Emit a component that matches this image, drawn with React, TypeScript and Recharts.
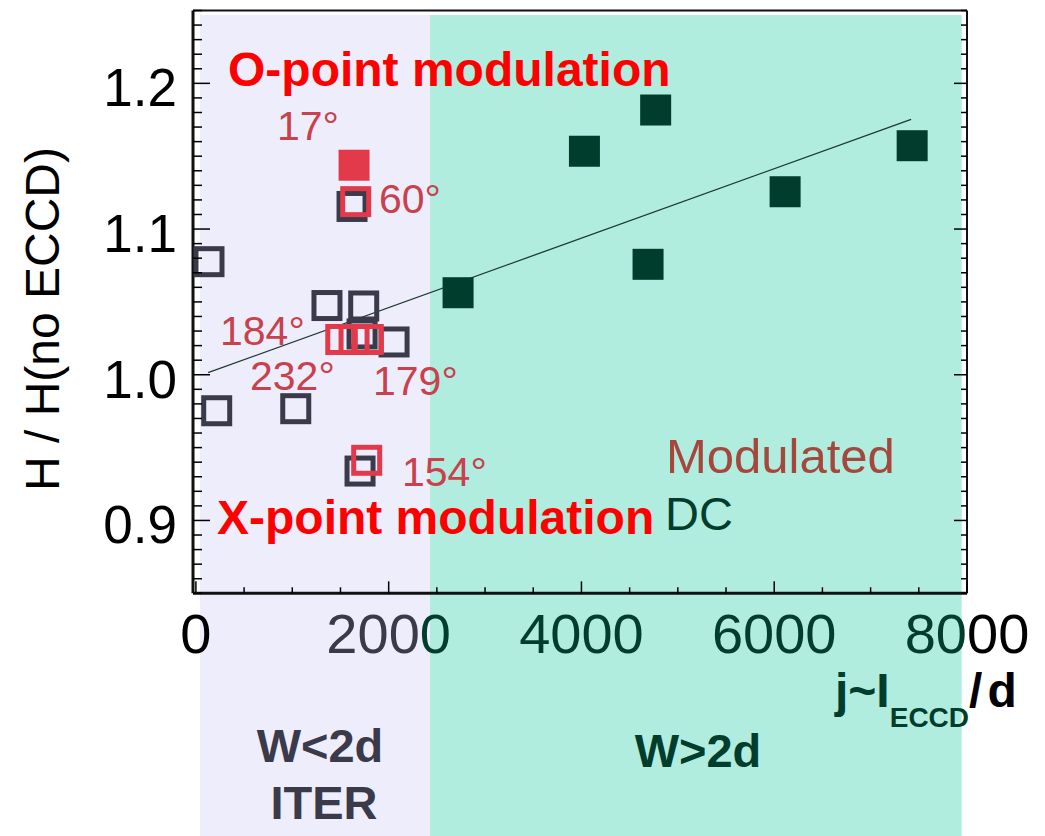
import { ScatterChart, Scatter, XAxis, YAxis, ReferenceArea, Customized } from "recharts";

// DC shots, W>2d (filled dark green)
const dcX = [2720, 4031, 4770, 4691, 6113, 7431];
const dcY = [1.0563, 1.1534, 1.1817, 1.0758, 1.1256, 1.1572];

// DC shots, W<2d (open gray)
const grayX = [136, 1360, 1741, 1724, 2056, 216, 1036, 1703, 1620];
const grayY = [1.0776, 1.0475, 1.0472, 1.028, 1.0225, 0.9753, 0.9767, 0.9339, 1.1155];

// modulated, 17 deg (filled red)
const oPointX = [1641];
const oPointY = [1.1438];

// modulated: 60, 184, 232, 179, 154 deg (open red)
const modX = [1658, 1503, 1641, 1789, 1772];
const modY = [1.1188, 1.0242, 1.0242, 1.0242, 0.9413];

// linear fit
const fitX = [126, 7420];
const fitY = [1.0014, 1.1753];

// shaded regions (W<2d / W>2d)
const iterBand = [43, 2429];
const wideBand = [2429, 7945];

const yMajor = [0.9, 1.0, 1.1, 1.2];
const xMajor = [0, 2000, 4000, 6000, 8000];
const yTicks = Array.from({ length: 41 }, (_, i) => +(0.85 + i * 0.01).toFixed(2));
const xTicks = Array.from({ length: 17 }, (_, i) => i * 500);

const FONT = "'Liberation Sans', Arial, Helvetica, sans-serif";
const GREEN = "#003d2c";
const GRAY = "#3a3a4a";
const RED = "#e23a4a";
const RED_TXT = "#c8414d";

const xTickParts: Record<number, [string, string][]> = {
  0: [["0", "#000"]],
  2000: [["200", GRAY], ["0", GREEN]],
  4000: [["4000", GREEN]],
  6000: [["6000", GREEN]],
  8000: [["80", GREEN], ["00", "#000"]],
};

const pts = (xs: number[], ys: number[]) => xs.map((x, i) => ({ x, y: ys[i] }));
const isMajor = (list: number[], v: number) => list.some((m) => Math.abs(m - v) < 1e-6);

const filledSquare = (color: string) => (p: any) => (
  <rect x={p.cx - 15.5} y={p.cy - 15.5} width={31} height={31} fill={color} />
);
const openSquare = (color: string) => (p: any) => (
  <rect x={p.cx - 13} y={p.cy - 13} width={26} height={26} fill="none" stroke={color} strokeWidth={5} />
);

function LeftTick({ x, y, payload }: any) {
  const major = isMajor(yMajor, payload.value);
  return (
    <g>
      <line x1={x} x2={x + (major ? 17 : 9)} y1={y} y2={y} stroke="#000" strokeWidth={1.5} />
      {major && (
        <text x={x - 16} y={y + 23} textAnchor="end" fontSize={53} fill="#000" fontFamily={FONT}>
          {payload.value.toFixed(1)}
        </text>
      )}
    </g>
  );
}

function RightTick({ x, y, payload }: any) {
  const major = isMajor(yMajor, payload.value);
  return <line x1={x} x2={x - (major ? 13 : 6)} y1={y} y2={y} stroke="#000" strokeWidth={1.5} />;
}

function BottomTick({ x, y, payload }: any) {
  const major = isMajor(xMajor, payload.value);
  const parts = xTickParts[payload.value];
  return (
    <g>
      <line x1={x} x2={x} y1={y} y2={y - (major ? 12 : 6)} stroke="#000" strokeWidth={1.5} />
      {major && parts && (
        <text x={x} y={y + 60} textAnchor="middle" fontSize={56} fontFamily={FONT}>
          {parts.map(([t, c], i) => (
            <tspan key={i} fill={c}>{t}</tspan>
          ))}
        </text>
      )}
    </g>
  );
}

function TopTick({ x, y, payload }: any) {
  const major = isMajor(xMajor, payload.value);
  return <line x1={x} x2={x} y1={y} y2={y + (major ? 13 : 5)} stroke="#000" strokeWidth={1.5} />;
}

function Overlay() {
  const deg = { fontSize: 41, fill: RED_TXT, fontFamily: FONT };
  const bold = { fontSize: 47, fontWeight: 700, fontFamily: FONT };
  return (
    <g>
      <text transform="translate(51, 311) rotate(-90)" textAnchor="middle" fontSize={48} fontFamily={FONT} fill="#000">
        H / H(no ECCD)
      </text>
      <text x={220} y={78} fontSize={48} fontWeight={700} fill="#ff0000" fontFamily={FONT}>O-point modulation</text>
      <text x={209} y={526} fontSize={48} fontWeight={700} fill="#ff0000" fontFamily={FONT}>X-point modulation</text>
      <text x={269} y={132} {...deg}>17°</text>
      <text x={371} y={205} {...deg}>60°</text>
      <text x={212} y={337} {...deg}>184°</text>
      <text x={242} y={382} {...deg}>232°</text>
      <text x={365} y={387} {...deg}>179°</text>
      <text x={394} y={478} {...deg}>154°</text>
      <text x={658} y={465} fontSize={49} fill="#a5473d" fontFamily={FONT}>Modulated</text>
      <text x={657} y={522} fontSize={47} fill={GREEN} fontFamily={FONT}>DC</text>
      <text x={312} y={754} textAnchor="middle" fill={GRAY} {...bold}>W&lt;2d</text>
      <text x={316} y={811} textAnchor="middle" fill={GRAY} {...bold}>ITER</text>
      <text x={690} y={759} textAnchor="middle" fill={GREEN} {...bold}>W&gt;2d</text>
      <text x={827} y={699} fontSize={48} fontWeight={700} fontFamily={FONT}>
        <tspan fill={GREEN}>j~I</tspan>
        <tspan fill={GREEN} fontSize={28} dy={20}>ECCD</tspan>
        <tspan fill="#000" dy={-20} letterSpacing={5}>/d</tspan>
      </text>
    </g>
  );
}

export default function App() {
  const axisCommon = { type: "number" as const, allowDataOverflow: true, interval: 0 as const, tickLine: false, tickSize: 0, tickMargin: 0 };
  return (
    <div style={{ width: 1037, height: 828 }}>
      <ScatterChart width={1037} height={828} margin={{ top: 1.5, right: 77, bottom: 241.7, left: 0 }}>
        <ReferenceArea xAxisId="b" yAxisId="l" x1={iterBand[0]} x2={iterBand[1]} y1={0.68} y2={1.2469}
          fill="#eeedfc" fillOpacity={1} stroke="none" ifOverflow="visible" zIndex={-200} />
        <ReferenceArea xAxisId="b" yAxisId="l" x1={wideBand[0]} x2={wideBand[1]} y1={0.68} y2={1.2469}
          fill="#b0eddf" fillOpacity={1} stroke="none" ifOverflow="visible" zIndex={-200} />
        <XAxis {...axisCommon} xAxisId="b" dataKey="x" domain={[-30, 8000]} ticks={xTicks} height={1}
          tick={BottomTick} axisLine={{ stroke: "#111", strokeWidth: 3 }} />
        <XAxis {...axisCommon} xAxisId="t" orientation="top" domain={[-30, 8000]} ticks={xTicks} height={1}
          tick={TopTick} axisLine={{ stroke: "#111", strokeWidth: 2 }} />
        <YAxis {...axisCommon} yAxisId="l" dataKey="y" domain={[0.85, 1.25]} ticks={yTicks} width={185}
          tick={LeftTick} axisLine={{ stroke: "#111", strokeWidth: 3 }} />
        <YAxis {...axisCommon} yAxisId="r" orientation="right" domain={[0.85, 1.25]} ticks={yTicks} width={1}
          tick={RightTick} axisLine={{ stroke: "#111", strokeWidth: 2 }} />
        <Scatter xAxisId="b" yAxisId="l" data={pts(fitX, fitY)} line={{ stroke: "#1c3a30", strokeWidth: 1.3 }}
          shape={() => <g />} isAnimationActive={false} />
        <Scatter xAxisId="b" yAxisId="l" data={pts(grayX, grayY)} shape={openSquare(GRAY)} isAnimationActive={false} />
        <Scatter xAxisId="b" yAxisId="l" data={pts(oPointX, oPointY)} shape={filledSquare(RED)} isAnimationActive={false} />
        <Scatter xAxisId="b" yAxisId="l" data={pts(modX, modY)} shape={openSquare(RED)} isAnimationActive={false} />
        <Scatter xAxisId="b" yAxisId="l" data={pts(dcX, dcY)} shape={filledSquare(GREEN)} isAnimationActive={false} />
        <Customized component={Overlay} />
      </ScatterChart>
    </div>
  );
}
